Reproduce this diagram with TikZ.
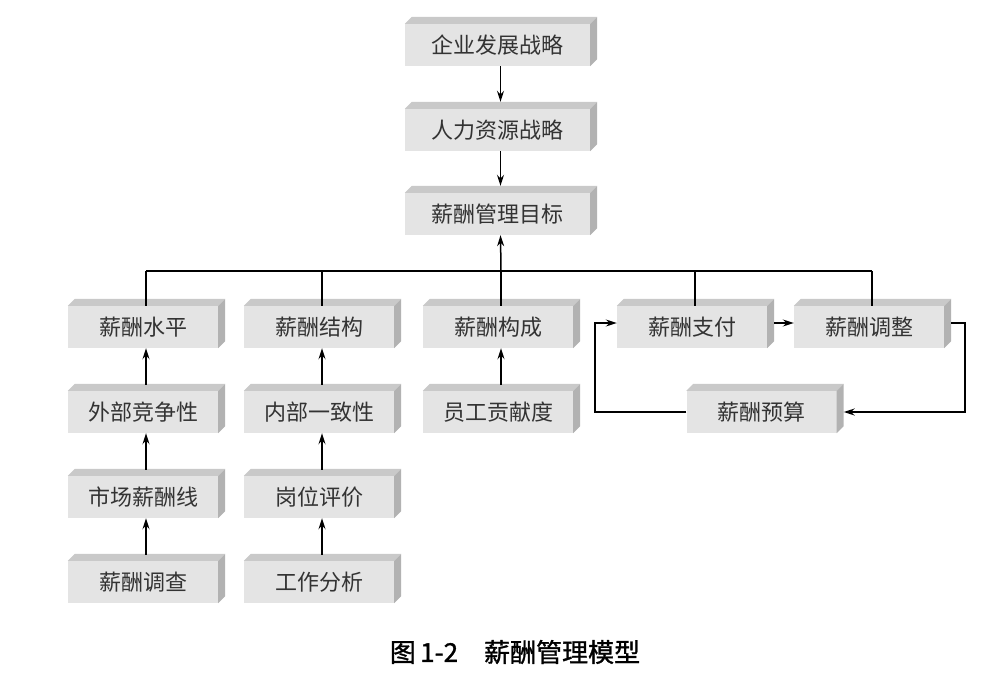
\documentclass[tikz,border=0pt]{standalone}
\usepackage{fontspec}
\newfontfamily\cjk{Noto Sans CJK SC}
\newfontfamily\cjkcap[FakeBold=1.2]{Noto Sans CJK SC}
\usetikzlibrary{calc,arrows.meta}
\definecolor{frontc}{HTML}{E4E4E4}
\definecolor{topc}{HTML}{C9C9C9}
\definecolor{sidec}{HTML}{B2B2B2}
\definecolor{txtc}{HTML}{333333}
\newcommand\boxfaces[1]{%
  \fill[topc] (#1.north west) -- ++(7,-7) -- ($(#1.north east)+(7,-7)$) -- (#1.north east) -- cycle;
  \fill[sidec] (#1.north east) -- ++(7,-7) -- ($(#1.south east)+(7,-7)$) -- (#1.south east) -- cycle;}
\tikzset{
  box/.style={rectangle, fill=frontc, minimum width=150pt, minimum height=42pt, inner sep=0pt,
    text=txtc, font=\cjk\fontsize{22}{26}\selectfont},
  wbox/.style={box, minimum width=185pt},
  conn/.style={line width=1.5pt, black},
  arr/.style={conn, -{Stealth[length=11pt,width=7pt]}}
}
\begin{document}
\begin{tikzpicture}[x=1pt,y=-1pt]
\useasboundingbox (0,0) rectangle (991,698);
% top column
\node[wbox] (g1) at (497.5,45) {企业发展战略};
\node[wbox] (g2) at (497.5,130) {人力资源战略};
\node[wbox] (g3) at (497.5,214) {薪酬管理目标};
% row 1
\node[box] (s1) at (143,327) {薪酬水平};
\node[box] (s2) at (319,327) {薪酬结构};
\node[box] (s3) at (498,327) {薪酬构成};
\node[box] (s4) at (692,327) {薪酬支付};
\node[box] (s5) at (869,327) {薪酬调整};
% row 2
\node[box] (a2) at (143,412) {外部竞争性};
\node[box] (b2) at (319,412) {内部一致性};
\node[box] (c2) at (498,412) {员工贡献度};
\node[box] (d2) at (761.5,412) {薪酬预算};
% row 3
\node[box] (a3) at (143,497) {市场薪酬线};
\node[box] (b3) at (319,497) {岗位评价};
% row 4
\node[box] (a4) at (143,582) {薪酬调查};
\node[box] (b4) at (319,582) {工作分析};
\foreach \n in {g1,g2,g3,s1,s2,s3,s4,s5,a2,b2,c2,d2,a3,b3,a4,b4}{\boxfaces{\n}}
\coordinate (hl) at (0,271);
\coordinate (lr) at (965,0);
\coordinate (ll) at (595,0);
% top arrows
\draw[arr] ([xshift=3pt]g1.south) -- ([xshift=3pt,yshift=7pt]g2.north);
\draw[arr] ([xshift=3pt]g2.south) -- ([xshift=3pt,yshift=7pt]g3.north);
% branch lines
\draw[conn] ([xshift=3pt]s1.north |- hl) -- ([xshift=3pt]s5.north |- hl);
\foreach \n in {s1,s2,s3,s4,s5}{\draw[conn] ([xshift=3pt]\n.north) -- ([xshift=3pt]\n.north |- hl);}
\draw[arr] ([xshift=3pt]s3.north |- hl) -- ([xshift=3pt]g3.south);
% column arrows
\draw[arr] ([xshift=3pt,yshift=6pt]a2.north) -- ([xshift=3pt]s1.south);
\draw[arr] ([xshift=3pt,yshift=6pt]a3.north) -- ([xshift=3pt]a2.south);
\draw[arr] ([xshift=3pt,yshift=6pt]a4.north) -- ([xshift=3pt]a3.south);
\draw[arr] ([xshift=3pt,yshift=6pt]b2.north) -- ([xshift=3pt]s2.south);
\draw[arr] ([xshift=3pt,yshift=6pt]b3.north) -- ([xshift=3pt]b2.south);
\draw[arr] ([xshift=3pt,yshift=6pt]b4.north) -- ([xshift=3pt]b3.south);
\draw[arr] ([xshift=3pt,yshift=6pt]c2.north) -- ([xshift=3pt]s3.south);
% loop
\draw[arr] ([xshift=7pt,yshift=4pt]s4.east) -- ([yshift=4pt]s5.west);
\draw[arr] ([xshift=7pt,yshift=4pt]s5.east) -- ([yshift=4pt]s5.east -| lr) -- (d2.east -| lr) -- ([xshift=7pt]d2.east);
\draw[arr] (d2.west) -- (d2.west -| ll) -- ([yshift=4pt]s4.west -| ll) -- ([yshift=4pt]s4.west);
% caption
\node[font=\cjkcap\fontsize{26}{30}\selectfont, text=black] (cap) at (515,652) {图\,1-2\quad 薪酬管理模型};
\end{tikzpicture}
\end{document}
